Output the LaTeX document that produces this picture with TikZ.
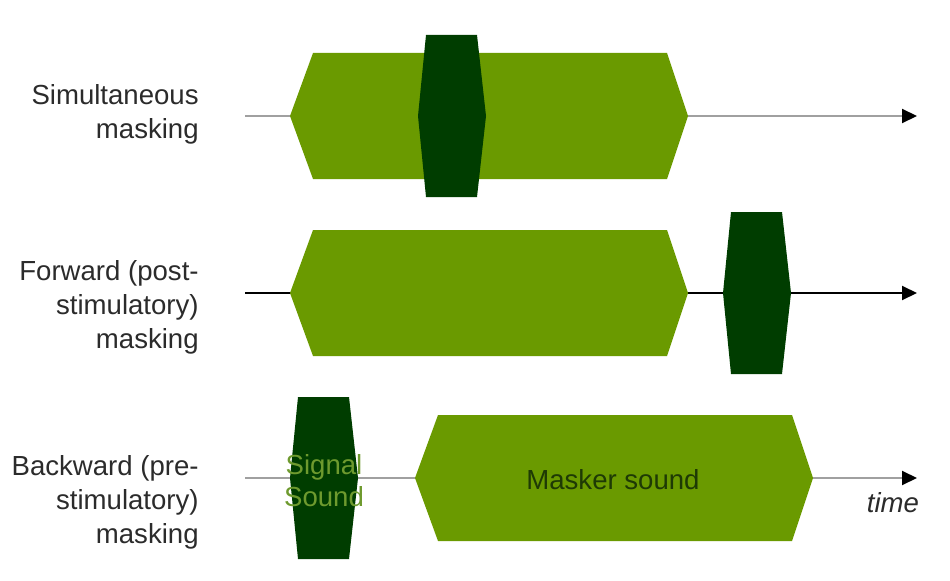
\documentclass[tikz,border=0pt]{standalone}
\usepackage{fontspec}
\setmainfont{Liberation Sans}
\usetikzlibrary{arrows.meta}
\definecolor{maskgreen}{HTML}{6A9A00}
\definecolor{signalgreen}{HTML}{003D00}
\definecolor{axisgrey}{HTML}{A0A0A0}
\definecolor{labelgrey}{HTML}{2B2B2B}
\definecolor{maskertext}{HTML}{1E3A05}
\definecolor{signaltext}{HTML}{6E9A2E}
\begin{document}
\begin{tikzpicture}[x=0.02cm,y=-0.02cm,line join=round,
  >={Triangle[length=0.3cm,width=0.28cm,color=black]}]
		\tikzset{masker/.style={fill=maskgreen},
			signal/.style={fill=signalgreen},
			timeline/.style={line width=0.04cm,->},
			rowlabel/.style={anchor=east,align=right,inner sep=0pt,text=labelgrey,
				font=\fontsize{15.7}{19.4}\selectfont},
			boxtext/.style={inner sep=0pt,font=\fontsize{15.7}{18.2}\selectfont}}
		\useasboundingbox (0,0) rectangle (950,581);
		% one row per kind of masking: axis, masker, signal
		\foreach \row/\ty/\mx/\sx/\col in {1/116/290/418/axisgrey,2/293/290/723/black,3/478/415/290/axisgrey}{
			\coordinate (start\row) at (245,\ty);
			\coordinate (end\row) at (917,\ty);
			\draw[timeline,draw=\col] (start\row) -- (end\row);
			\fill[masker] (\mx,\ty) -- ++(23,-63) -- ++(354,0) -- ++(21,63) -- ++(-21,63) -- ++(-354,0) -- cycle;
			\fill[signal] (\sx,\ty) -- ++(8,-81) -- ++(51,0) -- ++(9,81) -- ++(-9,81) -- ++(-51,0) -- cycle;
		}
		\node[rowlabel] (simlabel) at (199,114) {Simultaneous\\masking};
		\node[rowlabel] (fwdlabel) at (199,307) {Forward (post-\\stimulatory)\\masking};
		\node[rowlabel] (bwdlabel) at (199,502) {Backward (pre-\\stimulatory)\\masking};
		\node[boxtext,text=maskertext] (maskerlabel) at (613,480) {Masker sound};
		\node[boxtext,text=signaltext,align=center] (signallabel) at (324,481) {Signal\\Sound};
		\node[boxtext,text=labelgrey] (timelabel) at (893,503) {\itshape time};
\end{tikzpicture}
\end{document}
